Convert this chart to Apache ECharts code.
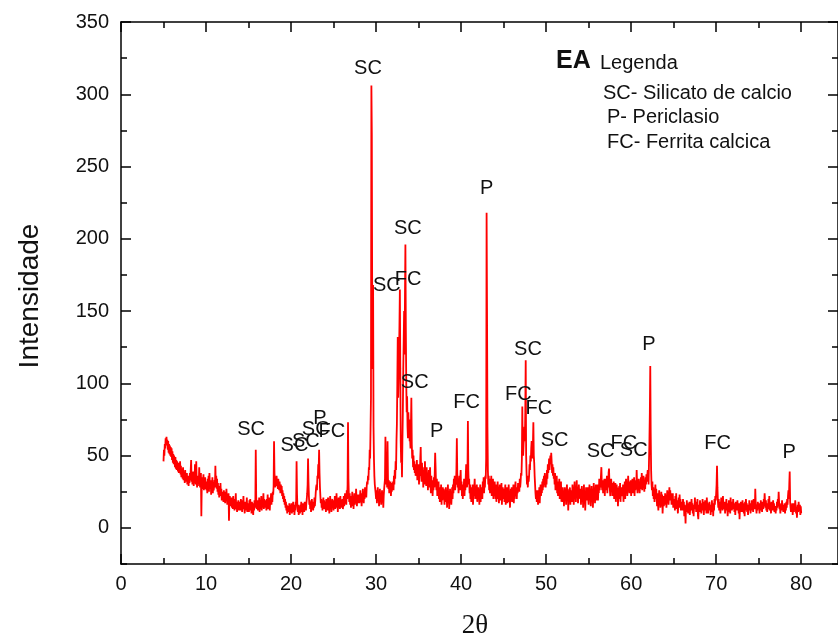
<!DOCTYPE html>
<html><head><meta charset="utf-8">
<script src="https://cdn.jsdelivr.net/npm/echarts@6/dist/echarts.min.js"></script>
<style>html,body{margin:0;padding:0;background:#fff}#c{width:838px;height:639px}</style>
</head><body><div id="c"></div>
<script>
// Sampling: each inner row holds one degree of 2θ at 0.05° steps (row r of a segment starts at start + r).
const angleStep = 0.05;

const start05 = 5;
const counts05 = [
[46,54,50,58,55,62,57,63,58,61,54,60,52,58,51,57,50,56,49,55],
[47,53,45,51,44,50,46,42,49,41,47,40,46,43,39,45,38,44,40,46],
[37,43,35,41,38,34,42,33,39,36,31,40,34,37,32,38,30,36,33,29],
[36,31,38,33,40,47,32,37,30,35,39,29,34,31,44,36,30,46,33,28],
[34,29,36,31,42,33,28,35,38,8,30,27,35,31,37,26,33,29,35,27]
];
const start10 = 10;
const counts10 = [
[32,26,30,24,34,28,36,25,38,30,27,33,23,31,28,35,24,30,26,29],
[33,28,43,30,36,27,34,25,31,23,29,21,28,24,31,22,27,19,25,21],
[24,18,26,20,23,17,25,19,27,21,16,23,18,24,5,20,22,15,19,17],
[21,14,19,13,22,16,18,12,20,15,24,13,18,11,17,14,19,12,16,13],
[18,12,20,14,17,11,19,15,22,13,16,10,18,12,17,14,21,11,16,13]
];
const start15 = 15;
const counts15 = [
[17,11,19,14,20,12,16,10,18,13,15,9,17,12,19,14,16,54,22,13],
[15,19,12,17,14,21,11,18,13,16,22,12,19,14,17,24,13,20,15,18],
[14,19,12,20,16,23,13,18,15,21,12,19,17,24,16,22,18,25,23,29],
[60,38,33,28,35,31,36,29,33,27,34,30,26,32,28,24,30,25,29,22],
[26,20,24,18,22,16,20,14,18,12,16,10,14,11,15,12,17,9,13,16]
];
const start20 = 20;
const counts20 = [
[12,17,10,15,13,18,11,16,9,14,12,18,15,46,24,14,11,16,9,13],
[15,10,16,12,18,11,14,9,17,13,16,11,18,13,15,12,17,20,24,30],
[48,32,22,16,19,13,17,11,15,20,13,18,12,16,14,21,15,19,24,28],
[30,26,36,34,44,40,54,38,28,22,17,20,14,18,12,17,21,13,19,15],
[13,18,11,20,15,17,12,21,14,19,10,16,22,13,18,11,17,20,14,19]
];
const start25 = 25;
const counts25 = [
[12,18,15,22,13,19,16,24,14,20,11,17,21,15,19,13,22,16,18,14],
[16,20,13,18,22,15,19,24,17,21,16,26,20,30,73,34,22,18,24,16],
[20,14,22,17,25,15,21,13,19,24,16,22,18,27,20,15,23,17,21,19],
[23,17,21,26,18,24,15,22,19,27,21,17,25,20,28,23,26,21,29,32],
[30,36,33,42,40,54,48,68,90,306,272,140,110,168,70,48,36,30,27,24]
];
const start30 = 30;
const counts30 = [
[20,26,17,23,28,19,25,15,22,27,18,24,16,21,26,19,23,14,22,27],
[26,34,63,40,30,36,28,60,34,27,33,24,30,26,32,22,29,25,31,28],
[32,26,36,30,40,34,46,40,60,72,100,132,90,105,120,140,165,110,60,45],
[50,35,60,80,110,130,150,120,160,196,139,100,80,91,70,62,80,68,75,60],
[62,55,70,90,58,48,54,42,50,40,46,38,44,36,42,38,47,33,40,36]
];
const start35 = 35;
const counts35 = [
[44,30,40,36,48,56,38,32,45,36,42,28,40,34,30,46,33,38,29,42],
[30,38,26,35,40,28,34,42,30,24,36,28,33,22,30,26,35,28,38,52],
[42,30,26,34,22,29,25,32,20,28,18,26,22,30,16,25,19,28,21,27],
[22,16,26,20,28,18,24,14,22,30,17,25,13,21,27,18,24,16,22,28],
[20,30,24,34,28,36,26,32,30,40,62,38,28,34,24,30,36,26,34,40]
];
const start40 = 40;
const counts40 = [
[26,32,22,30,20,28,25,34,22,30,26,36,44,32,28,38,74,40,30,34],
[24,30,20,28,18,26,22,30,16,24,20,28,34,22,28,20,26,30,18,24],
[28,20,25,16,24,30,18,27,22,28,20,32,26,35,24,30,28,36,34,48],
[218,150,70,40,30,36,26,34,24,32,28,36,22,30,26,34,20,28,24,32],
[26,20,30,18,28,22,32,20,27,17,25,30,19,27,23,31,16,24,28,22]
];
const start45 = 45;
const counts45 = [
[20,27,18,25,30,16,24,20,28,17,26,22,30,18,25,14,23,27,19,28],
[18,26,22,30,17,25,20,28,32,22,26,20,28,24,31,26,30,25,34,28],
[32,38,36,48,84,55,50,58,62,70,60,80,116,50,38,30,34,28,36,32],
[36,44,40,50,46,55,60,52,48,58,73,50,45,36,30,24,20,26,18,22],
[26,16,24,20,28,17,25,30,22,28,24,32,26,34,28,36,30,38,32,28]
];
const start50 = 50;
const counts50 = [
[36,30,40,34,44,38,42,48,40,46,50,44,52,46,38,44,36,42,34,38],
[30,38,26,34,28,36,24,32,22,30,26,34,20,28,24,32,18,26,22,28],
[18,25,15,23,28,20,26,16,24,30,19,27,12,22,26,18,28,16,24,20],
[26,18,30,22,28,16,24,32,20,27,18,25,33,21,28,17,24,30,22,26],
[20,27,16,24,29,18,26,14,22,30,17,25,12,21,28,19,26,23,28,20]
];
const start55 = 55;
const counts55 = [
[16,24,30,20,27,15,23,29,18,26,14,22,31,20,27,17,25,30,19,26],
[22,30,19,27,24,34,26,31,28,36,42,30,26,33,24,30,28,34,22,30],
[26,34,28,36,24,32,28,38,41,30,26,22,30,34,26,31,22,29,25,32],
[20,27,23,31,18,26,30,22,28,15,24,20,29,23,31,18,26,22,28,24],
[22,30,18,26,24,32,20,28,34,24,30,22,28,36,26,32,24,30,27,33]
];
const start60 = 60;
const counts60 = [
[22,29,26,34,24,31,28,35,22,30,26,33,28,40,30,24,32,26,34,28],
[24,31,27,35,30,38,26,33,28,36,30,25,32,27,35,30,37,32,36,40],
[38,30,46,60,80,112,66,40,30,26,32,22,28,20,26,18,24,30,20,27],
[21,15,24,18,12,20,26,16,22,14,19,25,17,23,10,18,22,15,21,17],
[24,16,22,14,20,26,18,24,16,22,28,19,26,20,24,16,22,18,24,14]
];
const start65 = 65;
const counts65 = [
[20,14,18,12,22,16,24,13,19,15,10,17,21,14,23,16,20,12,18,15],
[17,12,20,14,18,8,16,12,3,15,11,19,13,17,10,16,12,18,9,14],
[18,12,20,15,17,10,14,8,16,13,21,15,18,11,16,13,20,9,6,14],
[16,11,19,13,17,10,15,12,20,14,18,9,16,12,19,13,17,10,21,15],
[14,10,17,12,18,14,16,9,13,11,19,14,17,8,15,12,20,16,22,19]
];
const start70 = 70;
const counts70 = [
[24,30,43,28,19,14,20,12,18,15,10,16,21,14,18,12,22,15,17,13],
[18,10,15,12,20,14,17,8,13,11,19,14,16,10,21,13,17,12,18,14],
[20,13,17,11,15,9,18,14,16,12,19,13,15,10,17,6,14,11,18,13],
[16,11,19,13,17,10,14,8,18,12,20,15,17,11,14,9,16,12,19,13],
[15,10,17,12,19,14,16,11,20,15,18,13,27,17,14,10,16,12,18,14]
];
const start75 = 75;
const counts75 = [
[13,17,10,15,12,19,14,16,11,18,15,13,20,16,24,18,14,19,12,17],
[11,16,13,20,14,22,12,17,15,10,18,14,16,12,19,13,17,11,15,13],
[10,15,12,18,14,20,16,25,18,13,16,10,14,17,12,19,13,16,11,15],
[13,17,10,15,12,18,14,20,16,22,26,20,30,39,18,14,11,16,12,17],
[9,14,17,11,16,13,19,15,10,14,7,13,16,11,18,14,12,16,9,15],
[10]
];

// Phase labels (text, 2θ, intensity at label centre)
const peakLabels = ['SC','SC','SC','SC','P','FC','SC','FC','SC','SC','FC','P','SC','P','FC','FC','SC','SC','SC','FC','SC','P','FC','P'];
const peakLabelX = [15.3,20.4,21.75,22.9,23.4,24.8,29.05,33.77,33.73,31.27,40.64,37.13,34.55,43.0,46.73,49.14,47.87,50.99,56.4,59.15,60.3,62.08,70.16,78.6];
const peakLabelY = [67.8,57,60,67.8,75.4,67,317.5,172,207.2,168,86.8,66.7,100.6,235,92,82.8,123.1,60.4,52.6,58.1,53.3,126.6,58.6,52.2];

// Axis ticks
const xMajor = [0,10,20,30,40,50,60,70,80];
const xMinor = [5,15,25,35,45,55,65,75];
const yMajor = [0,50,100,150,200,250,300,350];
const yMinor = [-25,25,75,125,175,225,275,325];

const legendTitle = 'Legenda';
const legendLines = ['SC- Silicato de calcio','P- Periclasio','FC- Ferrita calcica'];

function toPoints(start, rows) {
  const out = [];
  rows.forEach((row, r) => row.forEach((v, j) => out.push([+(start + r + j * angleStep).toFixed(2), v])));
  return out;
}
const pattern = [].concat(
  toPoints(start05, counts05), toPoints(start10, counts10), toPoints(start15, counts15),
  toPoints(start20, counts20), toPoints(start25, counts25), toPoints(start30, counts30),
  toPoints(start35, counts35), toPoints(start40, counts40), toPoints(start45, counts45),
  toPoints(start50, counts50), toPoints(start55, counts55), toPoints(start60, counts60),
  toPoints(start65, counts65), toPoints(start70, counts70), toPoints(start75, counts75));

const FONT = "'Liberation Sans', Arial, sans-serif";
const black = '#000';

function xAx(pos, ticks, len, showLine, labels) {
  return {
    type: 'value', position: pos, min: 0, max: 84.33,
    axisLine: {show: showLine, onZero: false, lineStyle: {color: black, width: 1.5}},
    axisTick: {show: true, inside: true, length: len, customValues: ticks, lineStyle: {color: black, width: 1.5}},
    axisLabel: labels ? {show: true, customValues: xMajor, fontSize: 20, color: '#111', fontFamily: FONT, margin: 10} : {show: false},
    splitLine: {show: false}
  };
}
function yAx(pos, ticks, len, showLine, labels) {
  return {
    type: 'value', position: pos, min: -25, max: 350,
    axisLine: {show: showLine, onZero: false, lineStyle: {color: black, width: 1.5}},
    axisTick: {show: true, inside: true, length: len, customValues: ticks, lineStyle: {color: black, width: 1.5}},
    axisLabel: labels ? {show: true, customValues: yMajor, fontSize: 20, color: '#111', fontFamily: FONT, margin: 12} : {show: false},
    splitLine: {show: false}
  };
}

const chart = echarts.init(document.getElementById('c'));
chart.setOption({
  animation: false,
  backgroundColor: '#fff',
  grid: {left: 121, top: 22, right: -3, bottom: 75, containLabel: false},
  xAxis: [
    xAx('bottom', xMajor, 10, true, true),
    xAx('bottom', xMinor, 6, false, false),
    xAx('top', xMajor, 10, true, false),
    xAx('top', xMinor, 6, false, false)
  ],
  yAxis: [
    yAx('left', yMajor, 10, true, true),
    yAx('left', yMinor, 6, false, false),
    yAx('right', yMajor, 10, true, false),
    yAx('right', yMinor, 6, false, false)
  ],
  series: [
    {
      type: 'line', xAxisIndex: 0, yAxisIndex: 0, data: pattern,
      showSymbol: false, symbol: 'none', sampling: null,
      lineStyle: {color: '#ff0000', width: 1.8}, silent: true, z: 2
    },
    {
      type: 'scatter', xAxisIndex: 0, yAxisIndex: 0, symbolSize: 0, silent: true, z: 5,
      itemStyle: {opacity: 1, color: '#000'},
      data: peakLabels.map((t, i) => [peakLabelX[i], peakLabelY[i], t]),
      label: {show: true, position: 'inside', formatter: p => p.value[2],
        fontSize: 20, color: '#111', fontFamily: FONT, textBorderWidth: 0, textBorderColor: 'transparent'}
    }
  ],
  graphic: [
    {type: 'text', x: 30, y: 296, rotation: Math.PI / 2,
      style: {text: 'Intensidade', font: "28px " + FONT, fill: '#111', align: 'center', verticalAlign: 'middle'}},
    {type: 'text', x: 475, y: 626,
      style: {text: '2θ', font: "27px 'Liberation Serif', 'Times New Roman', serif", fill: '#111', align: 'center', verticalAlign: 'middle'}},
    {type: 'text', x: 556, y: 61,
      style: {text: 'EA', font: "bold 25px " + FONT, fill: '#111', align: 'left', verticalAlign: 'middle'}},
    {type: 'text', x: 600, y: 63,
      style: {text: legendTitle, font: "20px " + FONT, fill: '#111', align: 'left', verticalAlign: 'middle'}},
    {type: 'text', x: 603, y: 93,
      style: {text: legendLines[0], font: "20px " + FONT, fill: '#111', align: 'left', verticalAlign: 'middle'}},
    {type: 'text', x: 607, y: 117,
      style: {text: legendLines[1], font: "20px " + FONT, fill: '#111', align: 'left', verticalAlign: 'middle'}},
    {type: 'text', x: 607, y: 142,
      style: {text: legendLines[2], font: "20px " + FONT, fill: '#111', align: 'left', verticalAlign: 'middle'}}
  ]
});
</script>
</body></html>
